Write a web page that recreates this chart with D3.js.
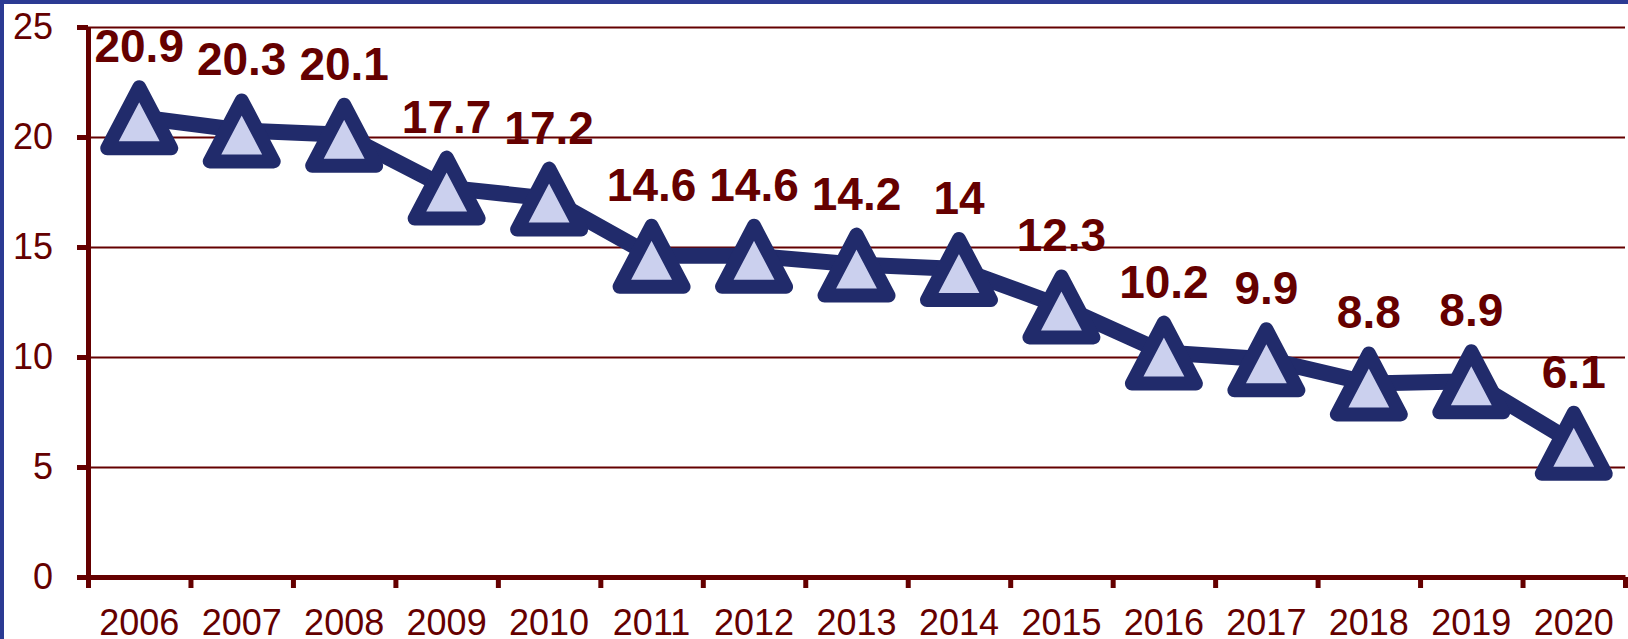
<!DOCTYPE html>
<html>
<head>
<meta charset="utf-8">
<script src="https://cdn.jsdelivr.net/npm/d3@7"></script>
<style>
  body { margin: 0; background: #fff; }
  svg { display: block; font-family: "Liberation Sans", Arial, sans-serif; }
</style>
</head>
<body>
<svg id="chart" width="1628" height="639"></svg>
<script>
let years = ['2006', '2007', '2008', '2009', '2010', '2011', '2012', '2013',
             '2014', '2015', '2016', '2017', '2018', '2019', '2020'];
let values = [20.9, 20.3, 20.1, 17.7, 17.2, 14.6, 14.6, 14.2, 14, 12.3, 10.2, 9.9, 8.8, 8.9, 6.1];
let yTicks = [0, 5, 10, 15, 20, 25];

let red = '#650000', navy = '#212B6B', fillc = '#CBD0EE';
let plotL = 88, plotR = 1625, plotT = 27, plotB = 577;

let svg = d3.select('#chart');

// frame
svg.append('rect').attr('x', 0).attr('y', 0).attr('width', 1628).attr('height', 4).attr('fill', '#2B3A93');
svg.append('rect').attr('x', 0).attr('y', 0).attr('width', 4).attr('height', 639).attr('fill', '#2B3A93');

let x = d3.scaleBand().domain(years).range([plotL, plotR]);
let xi = d3.scaleLinear().domain([0, years.length]).range([plotL, plotR]);
let y = d3.scaleLinear().domain([0, 25]).range([plotB, plotT]);

// gridlines
svg.append('g')
    .attr('transform', `translate(${plotL},0)`)
    .call(d3.axisLeft(y).tickValues(yTicks.slice(1)).tickSize(-(plotR - plotL)).tickFormat(''))
    .call(g => g.select('.domain').remove())
    .selectAll('line')
    .attr('stroke', red)
    .attr('stroke-width', 2);

// y axis
let ya = svg.append('g')
    .attr('transform', `translate(${plotL},0)`)
    .call(d3.axisLeft(y).tickValues(yTicks).tickSize(11).tickPadding(24).tickSizeOuter(0))
ya.select('.domain').attr('stroke', red).attr('stroke-width', 5)
ya.selectAll('line').attr('stroke', red).attr('stroke-width', 5)
ya.selectAll('text').attr('fill', red).style('font-size', '36px')

// x axis ticks
let xa = svg.append('g')
    .attr('transform', `translate(0,${plotB})`)
    .call(d3.axisBottom(xi).tickValues(d3.range(years.length + 1)).tickSize(11).tickFormat('').tickSizeOuter(0))
xa.select('.domain').attr('stroke', red).attr('stroke-width', 5)
xa.selectAll('line').attr('stroke', red).attr('stroke-width', 5)

svg.append('g')
    .selectAll('text')
    .data(years)
    .enter()
    .append('text')
    .attr('x', d => x(d) + x.bandwidth() / 2)
    .attr('y', 635)
    .attr('text-anchor', 'middle')
    .attr('fill', red)
    .style('font-size', '36px')
    .text(d => d);

// line
let line = d3.line()
    .x((d, i) => x(years[i]) + x.bandwidth() / 2)
    .y(d => y(d));

svg.append('path')
    .datum(values)
    .attr('d', line)
    .attr('fill', 'none')
    .attr('stroke', navy)
    .attr('stroke-width', 16)
    .attr('stroke-linejoin', 'round');

// triangle markers
svg.append('g')
    .selectAll('path')
    .data(values)
    .enter()
    .append('path')
    .attr('transform', (d, i) => `translate(${x(years[i]) + x.bandwidth() / 2},${y(d)})`)
    .attr('d', 'M0,-30L32,31L-32,31Z')
    .attr('fill', fillc)
    .attr('stroke', navy)
    .attr('stroke-width', 14)
    .attr('stroke-linejoin', 'round');

// value labels
svg.append('g')
    .selectAll('text')
    .data(values)
    .enter()
    .append('text')
    .attr('x', (d, i) => x(years[i]) + x.bandwidth() / 2)
    .attr('y', d => y(d) - 55)
    .attr('text-anchor', 'middle')
    .attr('fill', red)
    .style('font-size', '46px')
    .style('font-weight', 'bold')
    .text(d => d);
</script>
</body>
</html>
